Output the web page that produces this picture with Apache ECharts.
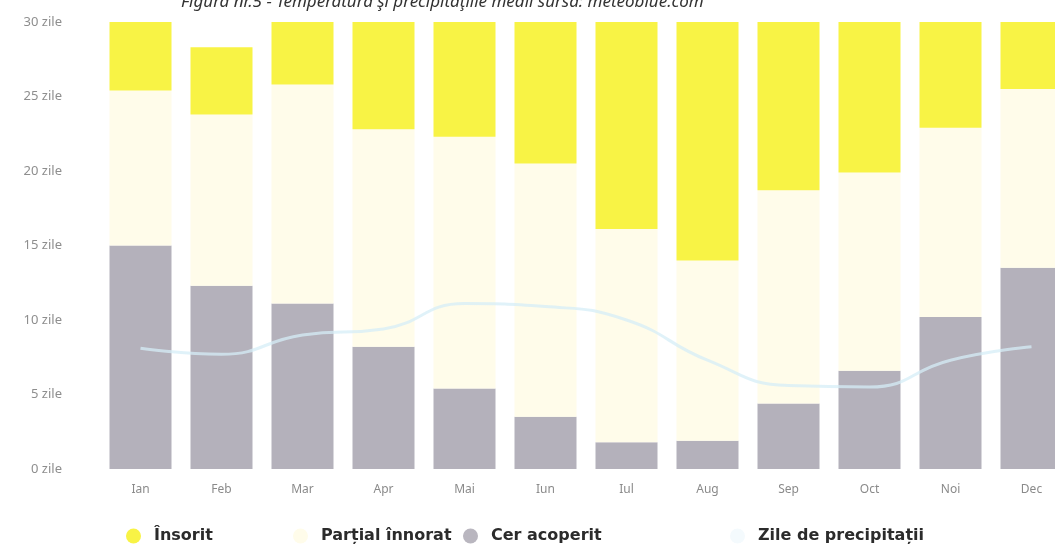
<!DOCTYPE html>
<html>
<head>
<meta charset="utf-8">
<script src="https://cdn.jsdelivr.net/npm/echarts@6/dist/echarts.min.js"></script>
<style>
html, body { margin: 0; padding: 0; background: #fff; overflow: hidden; }
/* graficul continua dincolo de marginea dreapta, ca in original */
#chart { width: 1072px; height: 551px; }
</style>
</head>
<body>
<div id="chart"></div>
<script>
// luni
var months = ['Ian', 'Feb', 'Mar', 'Apr', 'Mai', 'Iun', 'Iul', 'Aug', 'Sep', 'Oct', 'Noi', 'Dec']
// zile cer acoperit / partial innorat / insorit
var cloudyDays = [15.0, 12.3, 11.1, 8.2, 5.4, 3.5, 1.8, 1.9, 4.4, 6.6, 10.2, 13.5]
var partialDays = [10.4, 11.5, 14.7, 14.6, 16.9, 17.0, 14.3, 12.1, 14.3, 13.3, 12.7, 12.0]
var sunnyDays = [5.6, 4.5, 5.2, 7.2, 8.7, 9.5, 14.9, 17.0, 11.3, 11.1, 7.1, 5.5]
// zile de precipitatii
var precipDays = [8.1, 7.7, 9.0, 9.4, 11.1, 10.9, 10.0, 7.3, 5.6, 5.5, 7.3, 8.2]

var legendFont = {
    fontFamily: 'DejaVu Sans',
    fontWeight: 'bold',
    fontSize: 16,
    color: '#2b2b2b',
    padding: [0, 0, 0, 8]
}

function oneLegend (name, left, color) {
    return {
        data: [{ name: name, icon: 'circle', itemStyle: { color: color } }],
        left: left,
        top: 523,
        itemWidth: 15,
        itemHeight: 15,
        textStyle: legendFont,
        selectedMode: false
    }
}

var chart = echarts.init(document.getElementById('chart'))

var option = {
    animation: false,
    title: {
        text: 'Figura nr.5 - Temperatura şi precipitaţiile medii sursa: meteoblue.com',
        left: 176,
        top: -11,
        textStyle: {
            fontFamily: 'Noto Sans',
            fontStyle: 'italic',
            fontWeight: 'normal',
            fontSize: 17,
            color: '#333'
        }
    },
    legend: [
        oneLegend('Însorit', 121, '#f8f345'),
        oneLegend('Parțial înnorat', 288, '#fffcea'),
        oneLegend('Cer acoperit', 458, '#b9b6bf'),
        oneLegend('Zile de precipitații', 725, '#f4fafd')
    ],
    grid: {
        left: 100,
        right: 0,
        top: 22,
        bottom: 82
    },
    xAxis: {
        type: 'category',
        data: months,
        axisLine: { show: false },
        axisTick: { show: false },
        axisLabel: {
            margin: 15,
            fontFamily: 'Noto Sans',
            fontSize: 12,
            color: '#8a8a8a'
        }
    },
    yAxis: {
        type: 'value',
        min: 0,
        max: 30,
        interval: 5,
        splitLine: { show: false },
        axisLine: { show: false },
        axisTick: { show: false },
        axisLabel: {
            margin: 38,
            fontFamily: 'Noto Sans',
            fontSize: 13,
            color: '#8e8e8e',
            formatter: function (v) { return v + ' zile' }
        }
    },
    series: [
        {
            name: 'Cer acoperit',
            type: 'bar',
            stack: 'zile',
            barWidth: 62,
            itemStyle: { color: '#b4b1bb' },
            data: cloudyDays
        },
        {
            name: 'Parțial înnorat',
            type: 'bar',
            stack: 'zile',
            barWidth: 62,
            itemStyle: { color: '#fffcea' },
            data: partialDays
        },
        {
            name: 'Însorit',
            type: 'bar',
            stack: 'zile',
            barWidth: 62,
            itemStyle: { color: '#f8f345' },
            data: sunnyDays
        },
        {
            name: 'Zile de precipitații',
            type: 'line',
            smooth: true,
            symbol: 'none',
            z: 5,
            lineStyle: { color: '#d6edf7', width: 3, opacity: 0.75 },
            data: precipDays
        }
    ]
}

chart.setOption(option)
</script>
</body>
</html>
